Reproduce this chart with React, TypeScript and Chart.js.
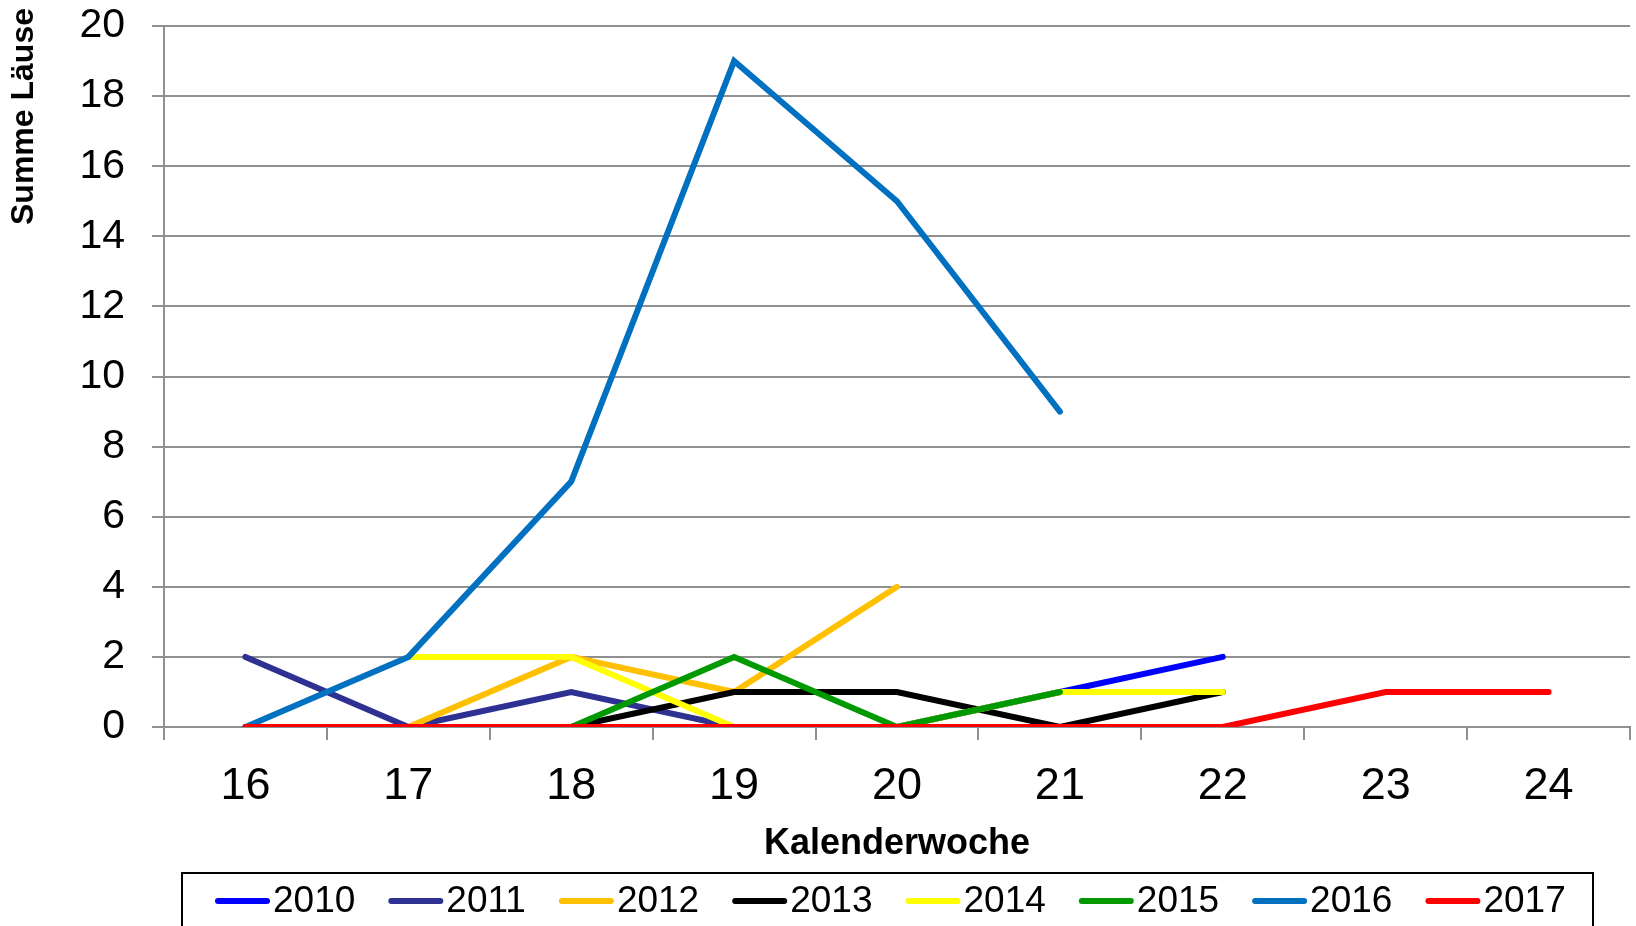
import React, { useEffect, useRef } from "react";
import { Chart, registerables } from "chart.js";

Chart.register(...registerables);

const weeks = ["16", "17", "18", "19", "20", "21", "22", "23", "24"];
const years = ["2010", "2011", "2012", "2013", "2014", "2015", "2016", "2017"];
const s2010 = [0, 0, 0, 0, 0, 1, 2, null, null];
const s2011 = [2, 0, 1, 0, 0, 0, 0, null, null];
const s2012 = [null, 0, 2, 1, 4, null, null, null, null];
const s2013 = [null, 0, 0, 1, 1, 0, 1, null, null];
const s2014 = [null, 2, 2, 0, 0, 1, 1, null, null];
const s2015 = [null, null, 0, 2, 0, 1, null, null, null];
const s2016 = [0, 2, 7, 19, 15, 9, null, null, null];
const s2017 = [0, 0, 0, 0, 0, 0, 0, 1, 1];
const seriesValues = [s2010, s2011, s2012, s2013, s2014, s2015, s2016, s2017];
const colors = ["#0000FF", "#2E3192", "#FFC000", "#000000", "#FFFF00", "#009900", "#0070C0", "#FF0000"];
const yTicks = { min: 0, max: 20, step: 2 };

const FONT = "'Liberation Sans', Arial, sans-serif";

const W = 1636;
const H = 926;

const yTitlePlugin = {
  id: "yTitle",
  afterDraw(chart: any) {
    const ctx = chart.ctx;
    ctx.save();
    ctx.translate(24, 8);
    ctx.rotate(-Math.PI / 2);
    ctx.font = `bold 32px ${FONT}`;
    ctx.fillStyle = "#000";
    ctx.textAlign = "right";
    ctx.textBaseline = "middle";
    ctx.fillText("Summe Läuse", 0, 0);
    ctx.restore();
  },
};

const legendPlugin = {
  id: "boxLegend",
  afterDraw(chart: any) {
    const ctx = chart.ctx;
    ctx.save();
    ctx.strokeStyle = "#000";
    ctx.lineWidth = 2;
    ctx.strokeRect(182, 873, 1411, 80);
    ctx.font = `37px ${FONT}`;
    ctx.textBaseline = "middle";
    ctx.textAlign = "left";
    let x = 216;
    const y = 901;
    chart.data.datasets.forEach((ds: any) => {
      ctx.strokeStyle = ds.borderColor;
      ctx.lineWidth = 6;
      ctx.lineCap = "round";
      ctx.beginPath();
      ctx.moveTo(x + 2, y);
      ctx.lineTo(x + 51, y);
      ctx.stroke();
      ctx.fillStyle = "#000";
      ctx.fillText(ds.label, x + 57, y + 1);
      x += 57 + ctx.measureText(ds.label).width + 34;
    });
    ctx.restore();
  },
};

export default function App() {
  const ref = useRef<HTMLCanvasElement | null>(null);
  useEffect(() => {
    if (!ref.current) return;
    const chart = new Chart(ref.current, {
      type: "line",
      data: {
        labels: weeks,
        datasets: years.map((y, i) => ({
          label: y,
          data: seriesValues[i],
          borderColor: colors[i],
          backgroundColor: colors[i],
          borderWidth: 6,
          borderCapStyle: "round",
          borderJoinStyle: "miter",
          pointRadius: 0,
          pointHoverRadius: 0,
          fill: false,
          tension: 0,
          spanGaps: false,
          order: years.length - i,
        })),
      },
      options: {
        responsive: false,
        animation: false,
        devicePixelRatio: 1,
        layout: { padding: { top: 26, right: 6, left: 0, bottom: 0 } },
        plugins: { legend: { display: false }, tooltip: { enabled: false } },
        scales: {
          x: {
            type: "category",
            offset: true,
            grid: {
              offset: true,
              drawOnChartArea: false,
              drawTicks: true,
              tickLength: 13,
              color: "#909090",
              lineWidth: 2,
            },
            border: { display: true, color: "#909090", width: 2 },
            ticks: {
              color: "#000",
              font: { family: FONT, size: 45 },
              padding: 20,
              maxRotation: 0,
              autoSkip: false,
            },
            title: {
              display: true,
              text: "Kalenderwoche",
              color: "#000",
              font: { family: FONT, size: 36, weight: "bold" },
              padding: { top: 0, bottom: 60 },
            },
            afterFit(scale: any) {
              scale.height = 199;
              scale.paddingLeft = 0;
              scale.paddingRight = 0;
            },
          },
          y: {
            min: yTicks.min,
            max: yTicks.max,
            grid: {
              color: "#909090",
              lineWidth: 2,
              drawTicks: true,
              tickLength: 12,
            },
            border: { display: true, color: "#909090", width: 2 },
            ticks: {
              stepSize: yTicks.step,
              color: "#000",
              font: { family: FONT, size: 41 },
              padding: 27,
            },
            afterFit(scale: any) {
              scale.width = 164;
              scale.paddingTop = 0;
              scale.paddingBottom = 0;
            },
          },
        },
      },
      plugins: [yTitlePlugin, legendPlugin],
    });
    return () => chart.destroy();
  }, []);
  return (
    <div style={{ position: "absolute", left: 0, top: 0, width: W, height: H, background: "#fff" }}>
      <canvas ref={ref} width={W} height={H} />
    </div>
  );
}
